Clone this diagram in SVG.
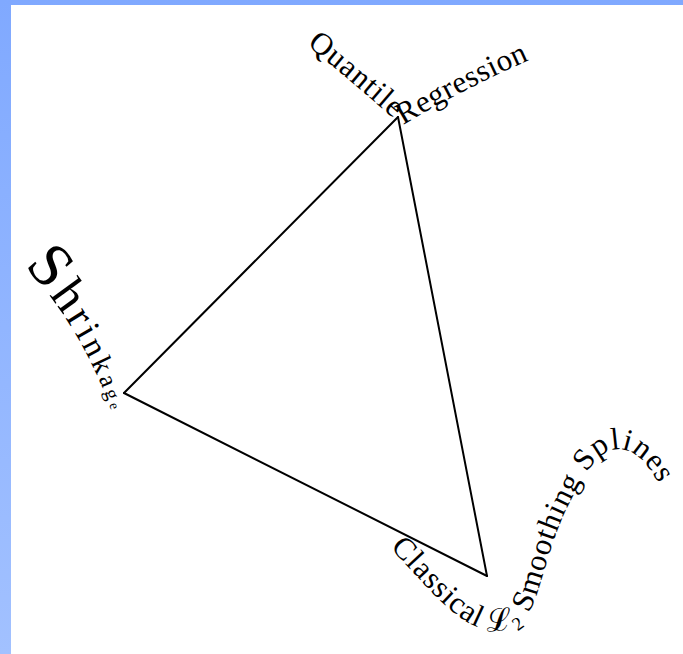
<svg xmlns="http://www.w3.org/2000/svg" width="683" height="654" viewBox="0 0 683 654">
<defs>
<linearGradient id="frame" x1="0" y1="0" x2="0" y2="1">
<stop offset="0" stop-color="#80a9ff"/>
<stop offset="1" stop-color="#a2c1ff"/>
</linearGradient>
<path id="p-quantile" d="M 307,45 Q 352,82 400,124"/>
<path id="p-regression" d="M 403,125 Q 465,88 536,57"/>
<path id="p-shrinkage" d="M 24,266 Q 85,330 116,424"/>
<path id="p-classical" d="M 390,548 C 420,578 450,618 480,628 C 505,636 525,625 535,600 C 545,570 552,540 565,512 C 578,485 590,462 605,453 C 625,442 645,455 662,490 L 668,502"/>
<style>
.lbl { font-family: "Liberation Serif", "DejaVu Serif", serif; fill: #000; }
.edge { stroke: #000; stroke-width: 2; fill: none; stroke-linecap: round; }
</style>
</defs>
<rect x="0" y="0" width="683" height="654" fill="url(#frame)"/>
<rect x="11" y="5" width="672" height="649" fill="#ffffff"/>
<g id="connectors">
<line class="edge" x1="398" y1="117" x2="124" y2="393"/>
<line class="edge" x1="124" y1="393" x2="487" y2="576"/>
<line class="edge" x1="487" y1="576" x2="398" y2="117"/>
</g>
<g id="node-quantile">
<text class="lbl" font-size="31"><textPath href="#p-quantile" textLength="114" lengthAdjust="spacing">Quantile</textPath></text>
</g>
<g id="node-regression">
<text class="lbl" font-size="31"><textPath href="#p-regression" textLength="142" lengthAdjust="spacing">Regression</textPath></text>
</g>
<g id="node-shrinkage">
<text class="lbl"><textPath href="#p-shrinkage" textLength="170" lengthAdjust="spacing"><tspan font-size="62">S</tspan><tspan font-size="50">h</tspan><tspan font-size="42">r</tspan><tspan font-size="37">i</tspan><tspan font-size="33">n</tspan><tspan font-size="29">k</tspan><tspan font-size="25">a</tspan><tspan font-size="20">g</tspan><tspan font-size="14">e</tspan></textPath></text>
</g>
<g id="node-smoothing">
<text class="lbl" font-size="31"><textPath href="#p-classical" textLength="425" lengthAdjust="spacing">Classical ℒ₂ Smoothing Splines</textPath></text>
</g>
</svg>
